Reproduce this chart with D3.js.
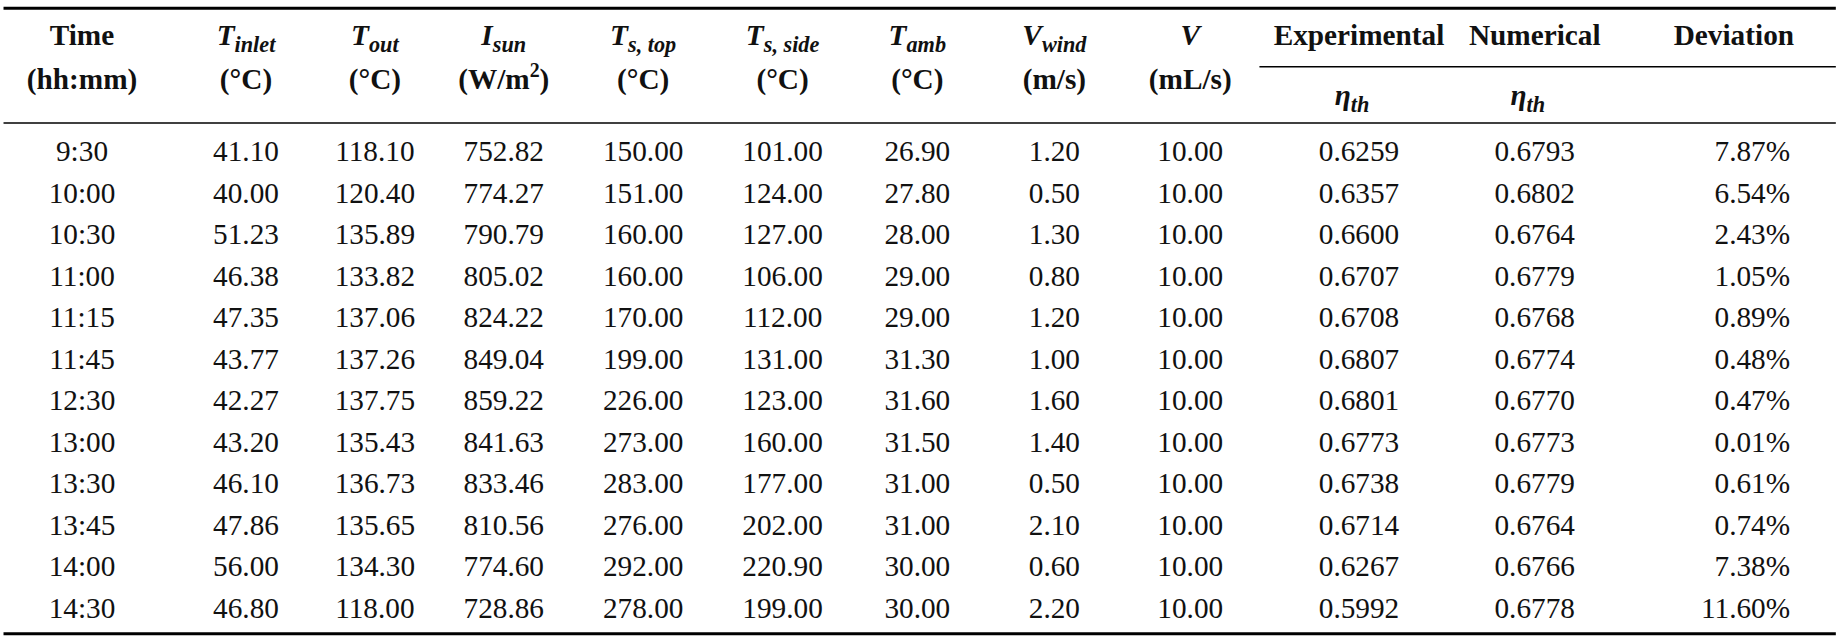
<!DOCTYPE html>
<html><head><meta charset="utf-8">
<script src="https://cdn.jsdelivr.net/npm/d3@7"></script>
<style>body{margin:0;background:#fff}text{font-family:"Liberation Serif","DejaVu Serif",serif;fill:#111}</style>
</head><body><svg id="c" width="1837" height="643"></svg>
<script>
// table data
const times = ["9:30","10:00","10:30","11:00","11:15","11:45","12:30","13:00","13:30","13:45","14:00","14:30"];
const tInlet = ["41.10","40.00","51.23","46.38","47.35","43.77","42.27","43.20","46.10","47.86","56.00","46.80"];
const tOut = ["118.10","120.40","135.89","133.82","137.06","137.26","137.75","135.43","136.73","135.65","134.30","118.00"];
const iSun = ["752.82","774.27","790.79","805.02","824.22","849.04","859.22","841.63","833.46","810.56","774.60","728.86"];
const tsTop = ["150.00","151.00","160.00","160.00","170.00","199.00","226.00","273.00","283.00","276.00","292.00","278.00"];
const tsSide = ["101.00","124.00","127.00","106.00","112.00","131.00","123.00","160.00","177.00","202.00","220.90","199.00"];
const tAmb = ["26.90","27.80","28.00","29.00","29.00","31.30","31.60","31.50","31.00","31.00","30.00","30.00"];
const vWind = ["1.20","0.50","1.30","0.80","1.20","1.00","1.60","1.40","0.50","2.10","0.60","2.20"];
const vFlow = ["10.00","10.00","10.00","10.00","10.00","10.00","10.00","10.00","10.00","10.00","10.00","10.00"];
const etaExp = ["0.6259","0.6357","0.6600","0.6707","0.6708","0.6807","0.6801","0.6773","0.6738","0.6714","0.6267","0.5992"];
const etaNum = ["0.6793","0.6802","0.6764","0.6779","0.6768","0.6774","0.6770","0.6773","0.6779","0.6764","0.6766","0.6778"];
const deviation = ["7.87%","6.54%","2.43%","1.05%","0.89%","0.48%","0.47%","0.01%","0.61%","0.74%","7.38%","11.60%"];

const cols = [times,tInlet,tOut,iSun,tsTop,tsSide,tAmb,vWind,vFlow,etaExp,etaNum,deviation];
const xs = [70,210,320,430,549,668,783,900,1016,1160,1310,1480];
// layout was measured on a 1568px-wide view; scale up to the page
const svg = d3.select("#c").append("g").attr("transform","scale(" + (1837/1568) + ")");
const fs = 25;

// rules
const rule = (x1,x2,y,w) => svg.append("line").attr("x1",x1).attr("x2",x2).attr("y1",y).attr("y2",y).attr("stroke","#000").attr("stroke-width",w);
rule(3,1567,7,2.5); rule(3,1567,105,1.2); rule(1075,1567,57,1.2); rule(3,1567,541,2.5);

// headers: [main, sub, unit, unitSup, italic]
const heads = [
  ["Time",null,"(hh:mm)",null,false],
  ["T","inlet","(°C)",null,true],
  ["T","out","(°C)",null,true],
  ["I","sun","(W/m","2",true],
  ["T","s, top","(°C)",null,true],
  ["T","s, side","(°C)",null,true],
  ["T","amb","(°C)",null,true],
  ["V","wind","(m/s)",null,true],
  ["V",null,"(mL/s)",null,true]
];
heads.forEach((h,i) => {
  const t = svg.append("text").attr("x",xs[i]).attr("y",38).attr("text-anchor","middle").attr("font-size",fs).attr("font-weight","bold");
  t.append("tspan").attr("font-style",h[4]?"italic":"normal").text(h[0]);
  if (h[1]) t.append("tspan").attr("font-style","italic").attr("font-size",19).attr("dy",6).text(h[1]);
  const u = svg.append("text").attr("x",xs[i]).attr("y",76).attr("text-anchor","middle").attr("font-size",fs).attr("font-weight","bold");
  u.append("tspan").text(h[2]);
  if (h[3]) { u.append("tspan").attr("font-size",17).attr("dy",-10).text(h[3]); u.append("tspan").attr("dy",10).text(")"); }
});
[["Experimental",1160],["Numerical",1310],["Deviation",1480]].forEach(([s,x]) =>
  svg.append("text").attr("x",x).attr("y",38).attr("text-anchor","middle").attr("font-size",fs).attr("font-weight","bold").text(s));
[1160,1310].forEach(x => {
  const t = svg.append("text").attr("x",x-6).attr("y",90).attr("text-anchor","middle").attr("font-size",fs).attr("font-weight","bold").attr("font-style","italic");
  t.append("tspan").text("η"); t.append("tspan").attr("font-size",19).attr("dy",6).text("th");
});

// body
const y = d3.scaleBand().domain(times).range([112,537]);
cols.forEach((c,j) => {
  svg.selectAll(null).data(c).enter().append("text")
    .attr("x", j===11 ? 1528 : xs[j]).attr("text-anchor", j===11 ? "end" : "middle")
    .attr("y",(d,i) => y(times[i]) + y.bandwidth()/2 + 8)
    .attr("font-size",fs).text(d => d);
});
</script></body></html>
